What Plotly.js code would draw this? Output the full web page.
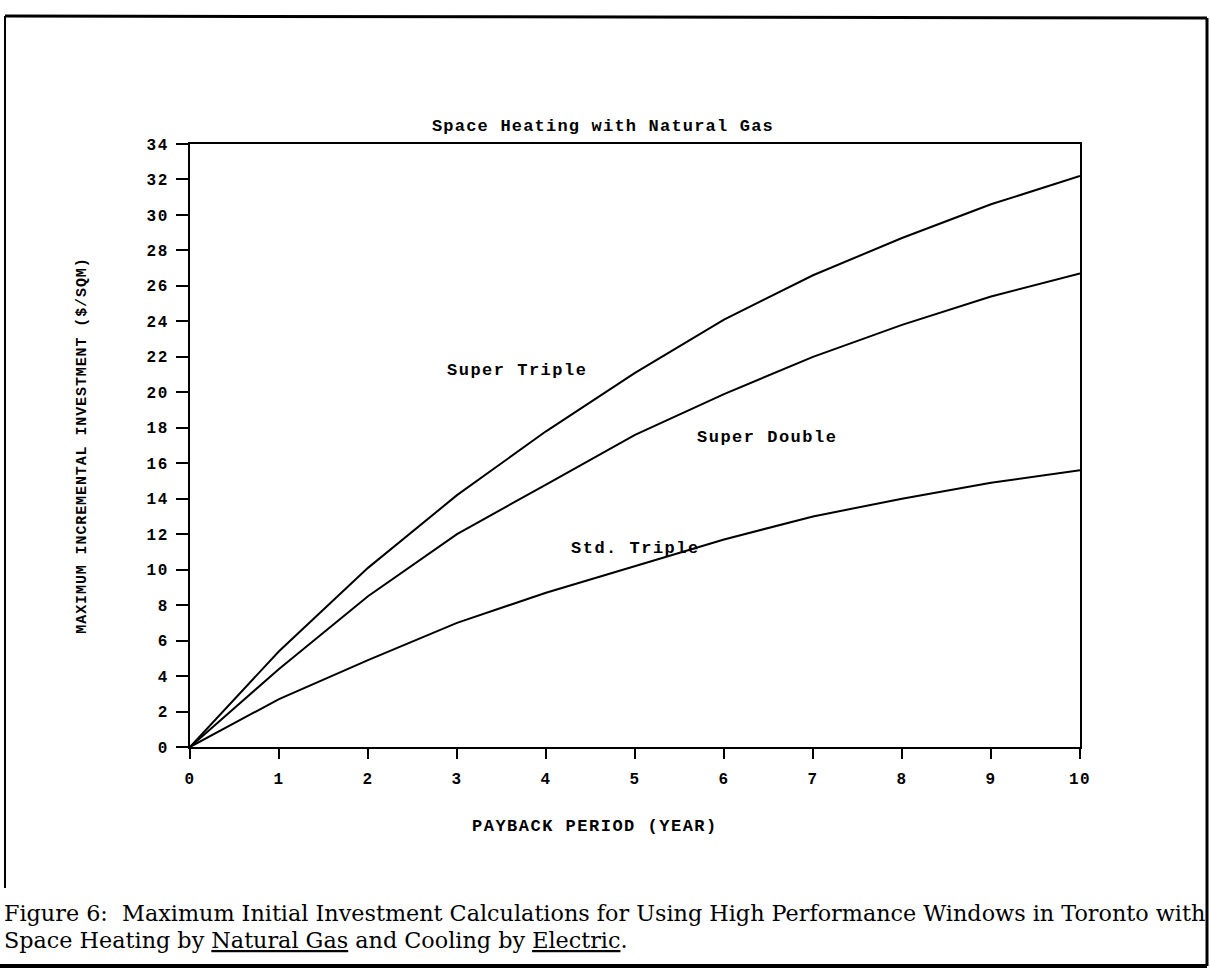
<!DOCTYPE html>
<html>
<head>
<meta charset="utf-8">
<script src="https://cdn.plot.ly/plotly-3.0.1.min.js"></script>
<style>html,body{margin:0;padding:0;background:#fff;}#chart{width:1210px;height:972px;}</style>
</head>
<body>
<div id="chart"></div>
<script>
// ---- data ----
const years = [0, 1, 2, 3, 4, 5, 6, 7, 8, 9, 10];
const superTriple = [0, 5.4, 10.1, 14.2, 17.8, 21.1, 24.1, 26.6, 28.7, 30.6, 32.2];
const superDouble = [0, 4.4, 8.5, 12.0, 14.8, 17.6, 19.9, 22.0, 23.8, 25.4, 26.7];
const stdTriple   = [0, 2.7, 4.9, 7.0, 8.7, 10.2, 11.7, 13.0, 14.0, 14.9, 15.6];
const seriesNames = ["Super Triple", "Super Double", "Std. Triple"];
const labelX = [3.67, 6.48, 5.0];
const labelY = [21.25, 17.47, 11.2];
const xTicks = [0, 1, 2, 3, 4, 5, 6, 7, 8, 9, 10];
const yTicks = [0, 2, 4, 6, 8, 10, 12, 14, 16, 18, 20, 22, 24, 26, 28, 30, 32, 34];
const captionLines = [
  'Figure 6:  Maximum Initial Investment Calculations for Using High Performance Windows in Toronto with',
  'Space Heating by <span style="text-decoration:underline">Natural Gas</span> and Cooling by <span style="text-decoration:underline">Electric</span>.'
];

const mono = '"Liberation Mono", "DejaVu Sans Mono", "Courier New", monospace';
const serif = '"DejaVu Serif", "Liberation Serif", serif';
const sp = (t, ls) => '<span style="letter-spacing:' + ls + 'px">' + t + '</span>';

const seriesValues = [superTriple, superDouble, stdTriple];
const traces = seriesValues.map((vals, i) => ({
  x: years, y: vals, name: seriesNames[i], type: 'scatter', mode: 'lines',
  line: {color: '#000', width: 2}, hoverinfo: 'x+y+name'
}));

// plot area in pixels: x 190..1080, y 144..747
const L = 190, R = 1080, T = 144, B = 747, W = 1210, H = 972;
const px = v => (v - L) / (R - L);
const py = v => (B - v) / (B - T);

const labelAnns = seriesNames.map((n, i) => ({
  x: labelX[i], y: labelY[i], xref: 'x', yref: 'y', text: sp(n, 1.5), showarrow: false,
  font: {family: mono, size: 17, color: '#000', weight: 'bold'}
}));

const captionY = [913, 940];
const captionAnns = captionLines.map((t, i) => ({
  x: px(2), y: py(captionY[i]), xref: 'paper', yref: 'paper', showarrow: false,
  xanchor: 'left', yanchor: 'middle', align: 'left', text: t,
  font: {family: serif, size: 22.3, color: '#000'}
}));

const layout = {
  width: W, height: H,
  margin: {l: L, r: W - R, t: T, b: H - B},
  paper_bgcolor: '#fff', plot_bgcolor: '#fff',
  showlegend: false,
  title: {
    text: sp('Space Heating with Natural Gas', 1.2),
    x: 603 / W, xref: 'container', xanchor: 'center',
    y: 1 - 125 / H, yref: 'container', yanchor: 'middle',
    font: {family: mono, size: 17, color: '#000', weight: 'bold'}
  },
  xaxis: {
    range: [0, 10], tickvals: xTicks, ticktext: xTicks.map(v => sp(String(v), 1.5)),
    ticks: 'outside', ticklen: 10, tickwidth: 2, tickcolor: '#000',
    ticklabelstandoff: 6,
    showline: true, linecolor: '#000', linewidth: 2, mirror: true,
    showgrid: false, zeroline: false,
    tickfont: {family: mono, size: 16, color: '#000', weight: 'bold'},
    title: {text: ''}
  },
  yaxis: {
    range: [0, 34], tickvals: yTicks, ticktext: yTicks.map(v => sp(String(v), 1.5)),
    ticks: 'outside', ticklen: 12, tickwidth: 2, tickcolor: '#000',
    ticklabelstandoff: 4,
    showline: true, linecolor: '#000', linewidth: 2, mirror: true,
    showgrid: false, zeroline: false,
    tickfont: {family: mono, size: 16, color: '#000', weight: 'bold'},
    title: {text: sp('MAXIMUM INCREMENTAL INVESTMENT ($/SQM)', 0.9), standoff: 56,
            font: {family: mono, size: 15, color: '#000', weight: 'bold'}}
  },
  annotations: labelAnns.concat([
    {x: px(595), y: py(826), xref: 'paper', yref: 'paper', showarrow: false,
     text: sp('PAYBACK PERIOD (YEAR)', 1.5), xanchor: 'center', yanchor: 'middle',
     font: {family: mono, size: 17, color: '#000', weight: 'bold'}}
  ], captionAnns),
  shapes: [
    {type: 'line', xref: 'paper', yref: 'paper', x0: px(5), x1: px(1207), y0: py(16), y1: py(18), line: {color: '#000', width: 3}},
    {type: 'line', xref: 'paper', yref: 'paper', x0: px(5), x1: px(5), y0: py(16), y1: py(888), line: {color: '#000', width: 2}},
    {type: 'line', xref: 'paper', yref: 'paper', x0: px(1207), x1: px(1207), y0: py(18), y1: py(966), line: {color: '#000', width: 3}},
    {type: 'line', xref: 'paper', yref: 'paper', x0: px(0), x1: px(1207), y0: py(966), y1: py(966), line: {color: '#000', width: 4}}
  ]
};

Plotly.newPlot('chart', traces, layout, {displayModeBar: false, staticPlot: true});
</script>
</body>
</html>
